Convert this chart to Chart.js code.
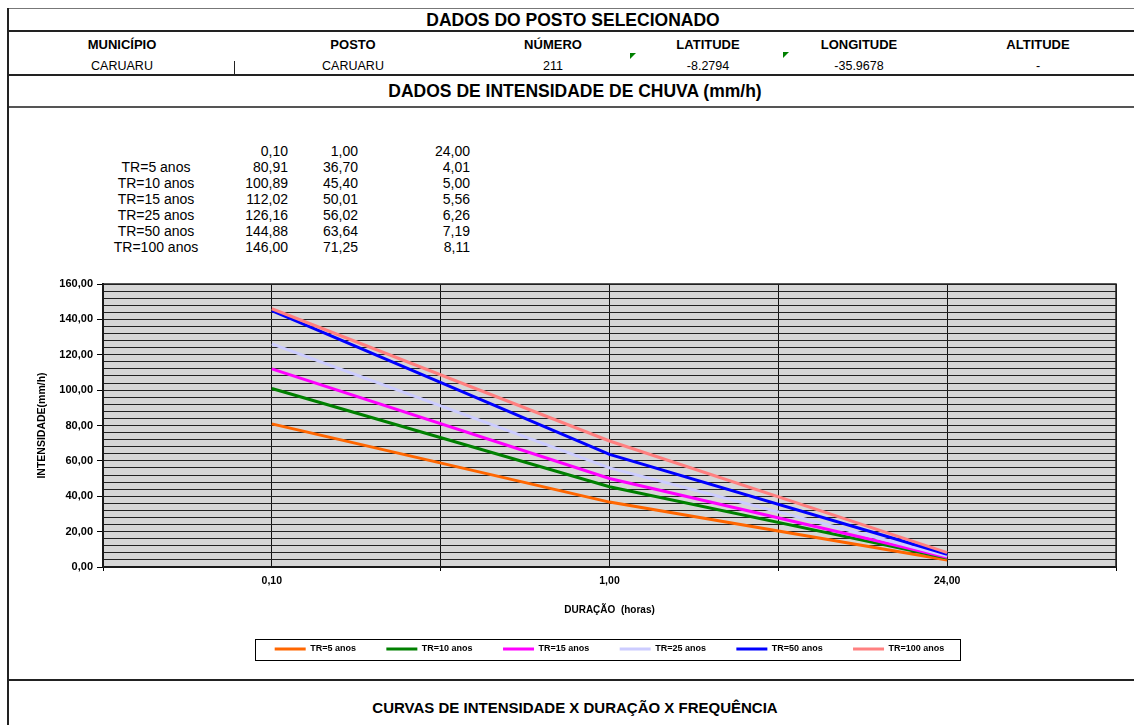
<!DOCTYPE html>
<html>
<head>
<meta charset="utf-8">
<title>Curvas IDF - Caruaru</title>
<script src="https://cdn.jsdelivr.net/npm/chart.js@4.4.1/dist/chart.umd.min.js"></script>
<style>
  html, body { margin: 0; padding: 0; background: #fff; width: 1134px; height: 725px; overflow: hidden;
    font-family: "Liberation Sans", Arial, sans-serif; color: #000; }
  .rule { position: absolute; left: 8px; right: 0; }
  .txt { position: absolute; white-space: nowrap; transform: translate(-50%, -50%); }
  .rtxt { position: absolute; white-space: nowrap; transform: translate(-100%, -50%); }
  .flag { position: absolute; width: 0; height: 0; border-top: 6px solid #008000; border-right: 6px solid transparent; }
  #chart { position: absolute; left: 0; top: 108px; }
</style>
</head>
<body>
<div id="sheet"></div>
<canvas id="chart" width="1134" height="572"></canvas>
<script>
// Station record
const stationFields = ['MUNICÍPIO', 'POSTO', 'NÚMERO', 'LATITUDE', 'LONGITUDE', 'ALTITUDE'];
const stationValues = ['CARUARU', 'CARUARU', '211', '-8.2794', '-35.9678', '-'];

// Rainfall durations (hours) and intensities (mm/h) per return period
const durations = [0.10, 1.00, 24.00];
const seriesNames = ['TR=5 anos', 'TR=10 anos', 'TR=15 anos', 'TR=25 anos', 'TR=50 anos', 'TR=100 anos'];
const tr5   = [80.91, 36.70, 4.01];
const tr10  = [100.89, 45.40, 5.00];
const tr15  = [112.02, 50.01, 5.56];
const tr25  = [126.16, 56.02, 6.26];
const tr50  = [144.88, 63.64, 7.19];
const tr100 = [146.00, 71.25, 8.11];
const seriesValues = [tr5, tr10, tr15, tr25, tr50, tr100];

// Axis range
const yMin = 0, yMax = 160, yMajorStep = 20, yMinorStep = 4;

// Styling
const seriesColors = ['#ff6600', '#008000', '#ff00ff', '#ccccff', '#0000ff', '#ff8080'];
const FONT = "'Liberation Sans', Arial, sans-serif";

const fmt = v => v.toFixed(2).replace('.', ',');

// ---------- sheet header, data block and footer ----------
const sheet = document.getElementById('sheet');
function add(html) { sheet.insertAdjacentHTML('beforeend', html); }

// frame rules
add('<div class="rule" style="top:8px;height:1px;background:#777"></div>');
add('<div class="rule" style="top:30px;height:2px;background:#222"></div>');
add('<div class="rule" style="top:74px;height:2px;background:#222"></div>');
add('<div class="rule" style="top:106px;height:2px;background:#555"></div>');
add('<div class="rule" style="top:679px;height:2px;background:#222"></div>');
add('<div style="position:absolute;left:7px;top:8px;width:2px;height:717px;background:#222"></div>');
add('<div style="position:absolute;left:234px;top:61px;width:1px;height:14px;background:#222"></div>');

add('<div class="txt" style="left:573px;top:20px;font-weight:bold;font-size:17.5px">DADOS DO POSTO SELECIONADO</div>');
add('<div class="txt" style="left:575px;top:91px;font-weight:bold;font-size:17.5px">DADOS DE INTENSIDADE DE CHUVA (mm/h)</div>');
add('<div class="txt" style="left:575px;top:707px;font-weight:bold;font-size:15px">CURVAS DE INTENSIDADE X DURAÇÃO X FREQUÊNCIA</div>');

const colCenters = [122, 353, 553, 708, 859, 1038];
stationFields.forEach((f, i) => {
  add(`<div class="txt" style="left:${colCenters[i]}px;top:44px;font-weight:bold;font-size:13px">${f}</div>`);
  add(`<div class="txt" style="left:${colCenters[i]}px;top:66px;font-size:12.5px">${stationValues[i]}</div>`);
});
add('<div class="flag" style="left:630px;top:53px"></div>');
add('<div class="flag" style="left:783px;top:52px"></div>');

// intensity table
const tblRight = [288, 358, 470];
const tblTop = 151, tblRow = 16;
durations.forEach((d, j) => {
  add(`<div class="rtxt" style="left:${tblRight[j]}px;top:${tblTop}px;font-size:14px">${fmt(d)}</div>`);
});
seriesNames.forEach((name, i) => {
  const y = tblTop + tblRow * (i + 1);
  add(`<div class="txt" style="left:156px;top:${y}px;font-size:14px">${name}</div>`);
  seriesValues[i].forEach((v, j) => {
    add(`<div class="rtxt" style="left:${tblRight[j]}px;top:${y}px;font-size:14px">${fmt(v)}</div>`);
  });
});

// ---------- chart ----------
const plotDecor = {
  id: 'plotDecor',
  beforeDraw(chart) {
    const { ctx, chartArea: a } = chart;
    ctx.save();
    ctx.fillStyle = '#d6d6d6';
    ctx.fillRect(a.left, a.top, a.width, a.height);
    ctx.restore();
  },
  afterDraw(chart) {
    const { ctx, chartArea: a, legend } = chart;
    ctx.save();
    ctx.strokeStyle = '#222';
    ctx.lineWidth = 1.5;
    ctx.strokeRect(a.left, a.top, a.width, a.height);
    // frame around the legend entries
    const boxes = legend.legendHitBoxes;
    if (boxes && boxes.length) {
      const first = boxes[0], last = boxes[boxes.length - 1];
      const cy = first.top + first.height / 2;
      const x0 = first.left - 20, x1 = last.left + last.width + 15;
      ctx.strokeStyle = '#000';
      ctx.lineWidth = 1;
      ctx.strokeRect(Math.round(x0) + 0.5, Math.round(cy - 10) + 0.5, Math.round(x1 - x0), 21);
    }
    ctx.restore();
  }
};

const datasets = seriesNames.map((name, i) => ({
  label: name,
  data: seriesValues[i].map((v, j) => ({ x: j + 0.5, y: v })),
  borderColor: seriesColors[i],
  backgroundColor: seriesColors[i],
  borderWidth: 3,
  pointRadius: 0,
  tension: 0,
  order: -i
}));

new Chart(document.getElementById('chart'), {
  type: 'line',
  data: { datasets },
  plugins: [plotDecor],
  options: {
    responsive: false,
    animation: false,
    devicePixelRatio: 1,
    layout: { padding: { left: 30, right: 18, top: 176, bottom: 16.5 } },
    plugins: {
      tooltip: { enabled: false },
      legend: {
        position: 'bottom',
        fullSize: false,
        labels: {
          boxWidth: 31,
          boxHeight: 3,
          padding: 30.4,
          color: '#000',
          font: { family: FONT, size: 9, weight: 'bold' },
          sort: (a, b) => a.datasetIndex - b.datasetIndex,
          generateLabels(chart) {
            return Chart.defaults.plugins.legend.labels.generateLabels(chart)
              .map(item => Object.assign(item, { lineWidth: 0, fillStyle: seriesColors[item.datasetIndex] }));
          }
        }
      }
    },
    scales: {
      x: {
        type: 'linear',
        min: 0,
        max: durations.length,
        afterFit(scale) { scale.height = 47.1; },
        ticks: {
          stepSize: 0.5,
          autoSkip: false,
          maxRotation: 0,
          padding: 3.7,
          color: '#000',
          font: { family: FONT, size: 10.5, weight: 'bold' },
          callback: v => (Math.abs(v % 1 - 0.5) < 1e-6 ? fmt(durations[Math.round(v - 0.5)]) : '')
        },
        grid: {
          color: '#111',
          lineWidth: 1,
          tickLength: 4,
          tickColor: c => (c.tick && Math.abs(c.tick.value % 1) < 1e-6 ? '#000' : 'rgba(0,0,0,0)')
        },
        border: { color: '#000', width: 2 },
        title: {
          display: true,
          text: 'DURAÇÃO  (horas)',
          color: '#000',
          font: { family: FONT, size: 10, weight: 'bold' },
          padding: { top: 0, bottom: -1.9 }
        }
      },
      y: {
        min: yMin,
        max: yMax,
        afterFit(scale) { scale.width = 73; },
        ticks: {
          stepSize: yMinorStep,
          autoSkip: false,
          padding: 4,
          color: '#000',
          font: { family: FONT, size: 11, weight: 'bold' },
          callback: v => (Math.abs(v % yMajorStep) < 1e-6 ? fmt(v) : '')
        },
        grid: {
          color: '#222',
          lineWidth: 1,
          tickLength: 6,
          tickColor: c => (c.tick && Math.abs(c.tick.value % yMajorStep) < 1e-6 ? '#000' : 'rgba(0,0,0,0)')
        },
        border: { color: '#000', width: 2 },
        title: {
          display: true,
          text: 'INTENSIDADE(mm/h)',
          color: '#000',
          font: { family: FONT, size: 10.5, weight: 'bold' },
          padding: { top: 5.7, bottom: 0 }
        }
      }
    }
  }
});
</script>
</body>
</html>
